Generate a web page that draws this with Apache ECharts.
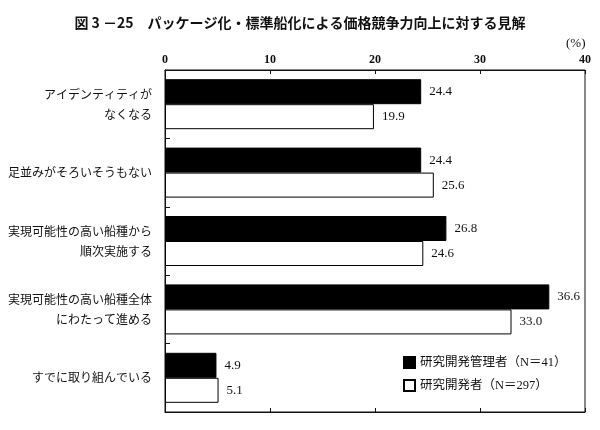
<!DOCTYPE html>
<html>
<head>
<meta charset="utf-8">
<script src="https://cdn.jsdelivr.net/npm/echarts@6/dist/echarts.min.js"></script>
<style>
  html, body { margin: 0; padding: 0; background: #fff; }
  #chart { width: 600px; height: 430px; }
</style>
</head>
<body>
<div id="chart"></div>
<script>
// Survey categories, top to bottom
const categories = [
  'アイデンティティが\nなくなる',
  '足並みがそろいそうもない',
  '実現可能性の高い船種から\n順次実施する',
  '実現可能性の高い船種全体\nにわたって進める',
  'すでに取り組んでいる'
];
// Percent of respondents per group
const managers = [24.4, 24.4, 26.8, 36.6, 4.9];
const researchers = [19.9, 25.6, 24.6, 33.0, 5.1];
const seriesNames = ['研究開発管理者（N＝41）', '研究開発者（N＝297）'];
const axisTicks = [0, 10, 20, 30, 40];

const JP = "'Noto Sans CJK JP', sans-serif";
const SERIF = "'Liberation Serif', 'Noto Sans CJK JP', serif";

const chart = echarts.init(document.getElementById('chart'), null, { renderer: 'canvas' });

const valueLabel = {
  show: true,
  position: 'right',
  distance: 8,
  fontFamily: SERIF,
  fontSize: 13,
  color: '#111',
  formatter: p => p.value.toFixed(1)
};

chart.setOption({
  animation: false,
  backgroundColor: '#fff',
  title: {
    text: '図 3 －25　パッケージ化・標準船化による価格競争力向上に対する見解',
    left: 'center',
    top: 11,
    textStyle: { fontFamily: JP, fontSize: 14, fontWeight: 'bold', color: '#111' }
  },
  graphic: [{
    type: 'text',
    left: 566,
    top: 37,
    style: { text: '(%)', fontFamily: SERIF, fontSize: 13, fill: '#111' }
  }],
  legend: {
    orient: 'vertical',
    left: 398,
    top: 351,
    itemWidth: 11,
    itemHeight: 11,
    itemGap: 10,
    icon: 'rect',
    textStyle: { fontFamily: SERIF, fontSize: 12.5, color: '#111' },
    data: seriesNames
  },
  grid: {
    left: 165, right: 15, top: 70, bottom: 18,
    show: true, borderColor: '#111', borderWidth: 1
  },
  xAxis: [{
    type: 'value', position: 'top',
    min: axisTicks[0], max: axisTicks[axisTicks.length - 1], interval: 10,
    axisLine: { show: true, lineStyle: { color: '#111' } },
    axisTick: { show: true, inside: true, length: 4, lineStyle: { color: '#111' } },
    axisLabel: { margin: 4, fontFamily: SERIF, fontSize: 12, fontWeight: 'bold', color: '#111',
      showMinLabel: true, showMaxLabel: true },
    splitLine: { show: false }
  }, {
    type: 'value', position: 'bottom',
    min: axisTicks[0], max: axisTicks[axisTicks.length - 1], interval: 10,
    axisLine: { show: true, lineStyle: { color: '#111' } },
    axisTick: { show: true, inside: true, length: 4, lineStyle: { color: '#111' } },
    axisLabel: { show: false },
    splitLine: { show: false }
  }],
  yAxis: {
    type: 'category',
    inverse: true,
    data: categories,
    axisLine: { show: true, lineStyle: { color: '#111' } },
    axisTick: { show: true, inside: true, length: 5, lineStyle: { color: '#111' } },
    axisLabel: { margin: 13, fontFamily: JP, fontSize: 12, lineHeight: 20, color: '#111', align: 'right' }
  },
  series: [{
    name: seriesNames[0],
    type: 'bar',
    data: managers,
    barWidth: 25,
    barGap: '0%',
    itemStyle: { color: '#000', borderColor: '#000', borderWidth: 1 },
    label: valueLabel
  }, {
    name: seriesNames[1],
    type: 'bar',
    data: researchers,
    barWidth: 25,
    itemStyle: { color: '#fff', borderColor: '#000', borderWidth: 1 },
    label: valueLabel
  }]
});
</script>
</body>
</html>
